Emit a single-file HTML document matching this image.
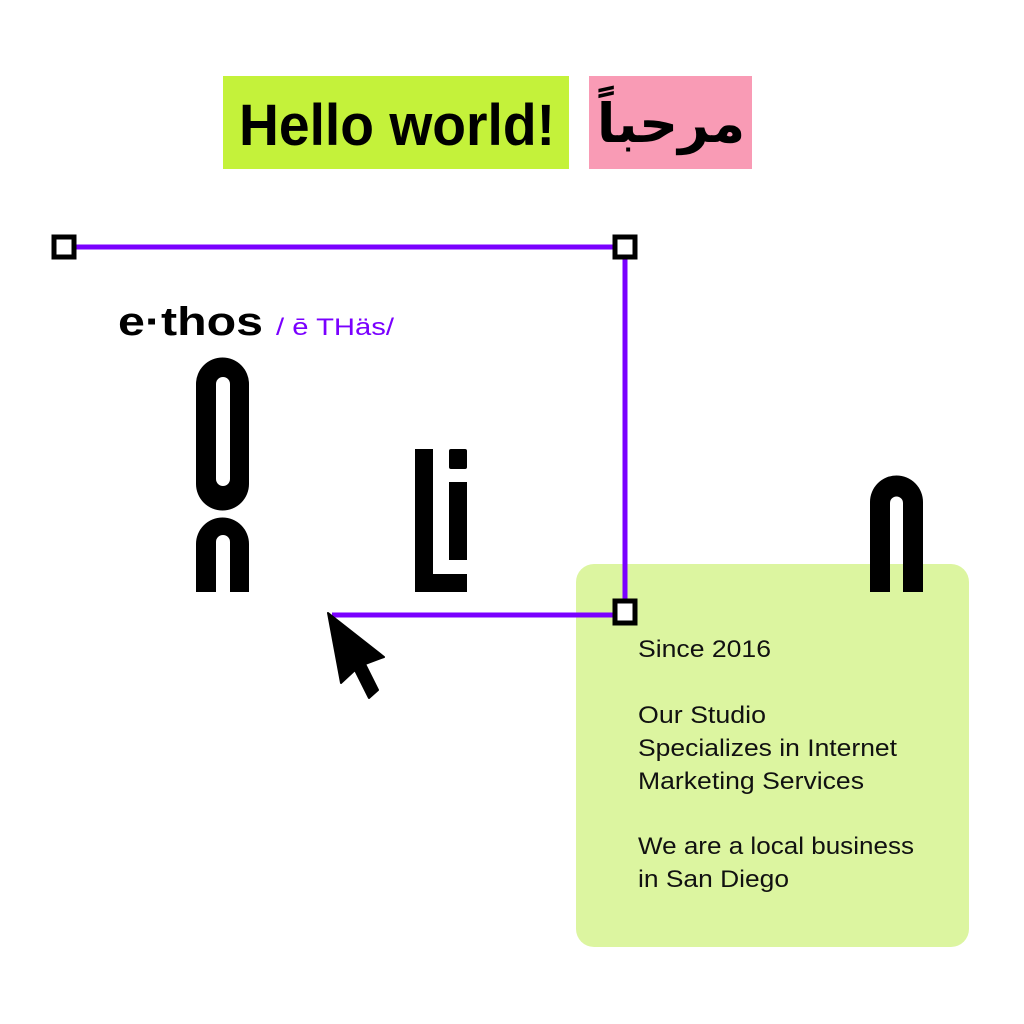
<!DOCTYPE html>
<html><head><meta charset="utf-8"><style>
html,body{margin:0;padding:0;background:#fff;}
svg{display:block}
</style></head><body>
<svg width="1024" height="1024" viewBox="0 0 1024 1024" xmlns="http://www.w3.org/2000/svg">
<rect x="0" y="0" width="1024" height="1024" fill="#fff"/>
<rect x="223" y="76" width="346" height="93" fill="#c4f23a"/>
<rect x="589" y="76" width="163" height="93" fill="#f99bb5"/>
<text x="239" y="145" font-family="Liberation Sans, sans-serif" font-weight="bold" font-size="58" textLength="316" lengthAdjust="spacingAndGlyphs" fill="#000">Hello world!</text>
<text x="671" y="142" font-family="DejaVu Sans, sans-serif" font-weight="bold" font-size="54" text-anchor="middle" fill="#000">مرحباً</text>

<rect x="576" y="564" width="393" height="383" rx="18" fill="#dcf5a0"/>

<g stroke="#7a00ff" stroke-width="5" fill="none">
<line x1="64" y1="247" x2="625" y2="247"/>
<line x1="625" y1="247" x2="625" y2="611"/>
<line x1="332" y1="615" x2="625" y2="615"/>
</g>
<g fill="#fff" stroke="#000" stroke-width="5">
<rect x="54" y="237" width="20" height="20"/>
<rect x="615" y="237" width="20" height="20"/>
<rect x="615" y="601" width="20" height="22"/>
</g>

<text x="118" y="335" font-family="Liberation Sans, sans-serif" font-weight="bold" font-size="40" textLength="145" lengthAdjust="spacingAndGlyphs" fill="#000">e·thos</text>
<text x="276" y="335" font-family="Liberation Sans, sans-serif" font-size="24" textLength="118" lengthAdjust="spacingAndGlyphs" fill="#7a00ff">/ ē THäs/</text>

<path fill-rule="evenodd" fill="#000" d="M196 384 A26.5 26.5 0 0 1 249 384 L249 484 A26.5 26.5 0 0 1 196 484 Z M216 384 A7 7 0 0 1 230 384 L230 479 A7 7 0 0 1 216 479 Z"/>
<path fill="#000" d="M196 592 L196 544 A26.5 26.5 0 0 1 249 544 L249 592 L230 592 L230 542 A7 7 0 0 0 216 542 L216 592 Z"/>
<rect x="415" y="449" width="18" height="143" fill="#000"/>
<rect x="415" y="574" width="52" height="18" fill="#000"/>
<rect x="449" y="449" width="18" height="20" rx="2" fill="#000"/>
<rect x="449" y="482" width="18" height="78" fill="#000"/>
<path fill="#000" d="M870 592 L870 502 A26.5 26.5 0 0 1 923 502 L923 592 L903 592 L903 503 A6.5 6.5 0 0 0 890 503 L890 592 Z"/>

<path fill="#000" d="M328 613 L384 657 L365 664 L378 690 L369 698 L355 670 L341 683 Z" stroke="#000" stroke-width="2" stroke-linejoin="round"/>

<g font-family="Liberation Sans, sans-serif" font-size="24" fill="#111">
<text x="638" y="657" textLength="133" lengthAdjust="spacingAndGlyphs">Since 2016</text>
<text x="638" y="723" textLength="128" lengthAdjust="spacingAndGlyphs">Our Studio</text>
<text x="638" y="756" textLength="259" lengthAdjust="spacingAndGlyphs">Specializes in Internet</text>
<text x="638" y="789" textLength="226" lengthAdjust="spacingAndGlyphs">Marketing Services</text>
<text x="638" y="854" textLength="276" lengthAdjust="spacingAndGlyphs">We are a local business</text>
<text x="638" y="887" textLength="151" lengthAdjust="spacingAndGlyphs">in San Diego</text>
</g>
</svg>
</body></html>
